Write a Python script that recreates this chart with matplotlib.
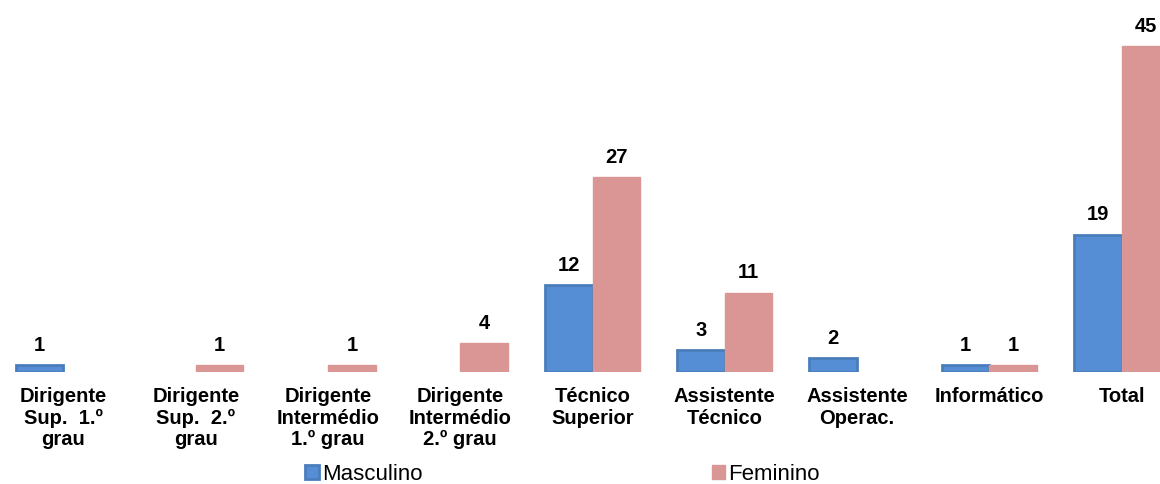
import numpy as np
import matplotlib.pyplot as plt

plt.rcParams['font.family'] = ['Liberation Sans', 'DejaVu Sans']

categorias = ['Dirigente\nSup.  1.º\ngrau', 'Dirigente\nSup.  2.º\ngrau', 'Dirigente\nIntermédio\n1.º grau',
              'Dirigente\nIntermédio\n2.º grau', 'Técnico\nSuperior', 'Assistente\nTécnico',
              'Assistente\nOperac.', 'Informático', 'Total']
masculino = [1, 0, 0, 0, 12, 3, 2, 1, 19]
feminino = [0, 1, 1, 4, 27, 11, 0, 1, 45]

fig = plt.figure(figsize=(11.6, 4.84), dpi=100)
ax = fig.add_axes([0, 0.231, 1, 0.748])

x = np.arange(len(categorias))
w = 0.36
# zeros are not drawn
m = np.array(masculino, dtype=float)
f = np.array(feminino, dtype=float)
m[m == 0] = np.nan
f[f == 0] = np.nan
b1 = ax.bar(x - w / 2, m, w, color='#558ED5', edgecolor='#4A7EBB', linewidth=2, label='Masculino')
b2 = ax.bar(x + w / 2, f, w, color='#D99694', edgecolor='#D99694', linewidth=1, label='Feminino')

for bars, vals in [(b1, masculino), (b2, feminino)]:
    for r, v in zip(bars, vals):
        if v > 0:
            ax.text(r.get_x() + r.get_width() / 2, v + 1.4, str(v), ha='center', va='bottom',
                    fontsize=14.5, fontweight='bold')

ax.set_xlim(-0.48, 8.29)
ax.set_ylim(0, 50)
ax.set_xticks(x)
ax.set_xticklabels(categorias, fontsize=14.5, fontweight='bold', linespacing=1.15)
ax.tick_params(axis='x', length=0, pad=11)
ax.set_yticks([])
for s in ax.spines.values():
    s.set_visible(False)

fig.legend(handles=[b1, b2], loc='center', bbox_to_anchor=(0.485, 0.02), ncol=2, frameon=False,
           fontsize=16, handlelength=0.6, handleheight=0.6, handletextpad=0.15, columnspacing=13)

fig.savefig('out.png', dpi=100)
